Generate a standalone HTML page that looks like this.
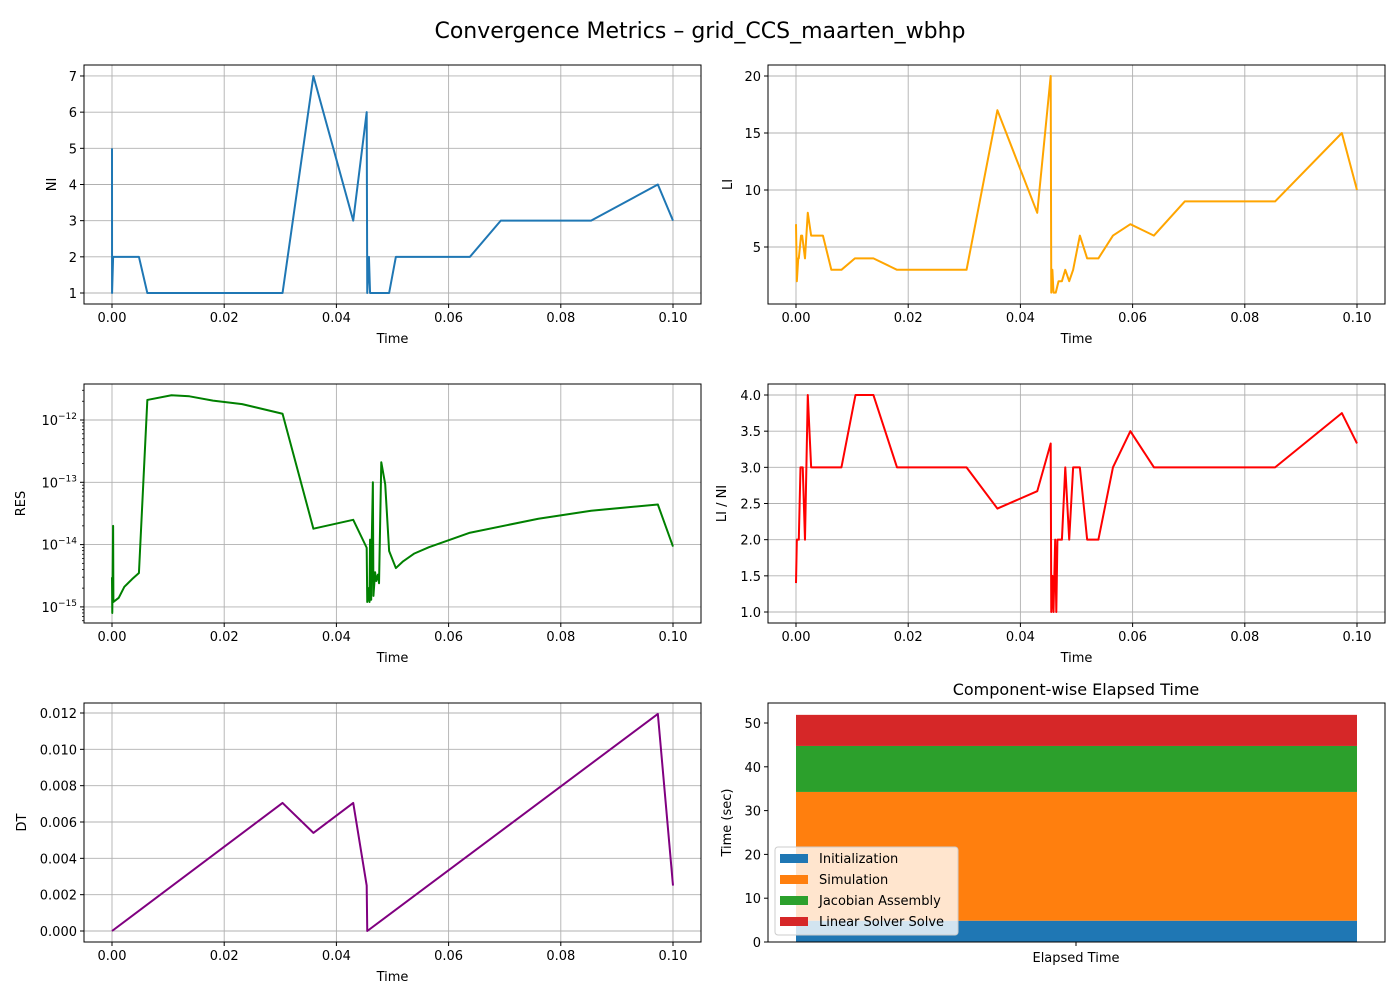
<!DOCTYPE html>
<html><head><meta charset="utf-8">
<style>
body{margin:0;background:#fff;}
svg{display:block;font-family:"DejaVu Sans","Liberation Sans",sans-serif;}
</style></head>
<body>
<svg id="fig" width="1400" height="1000" viewBox="0 0 1400 1000" xmlns="http://www.w3.org/2000/svg">
<rect x="0" y="0" width="1400" height="1000" fill="#fff"/>
<text x="700" y="38" font-size="22" text-anchor="middle">Convergence Metrics – grid_CCS_maarten_wbhp</text>
</svg>
<script>
// ---- data ----
const niT = [0,0.00001,0.0002,0.0048,0.0063,0.0304,0.0359,0.0430,0.0454,0.0455,0.0458,0.0460,0.0494,0.0506,0.0638,0.0693,0.0854,0.0973,0.1];
const niV = [5,1,2,2,1,1,7,3,6,1,2,1,1,2,2,3,3,4,3];
const liT = [0,0.00015,0.0004,0.0005,0.0009,0.0011,0.0016,0.0021,0.0027,0.0048,0.0063,0.0081,0.0105,0.0138,0.0180,0.0304,0.0359,0.0430,0.0454,0.0455,0.0457,0.0459,0.0463,0.0468,0.0474,0.0480,0.0487,0.0494,0.0506,0.0519,0.0539,0.0565,0.0596,0.0638,0.0693,0.0854,0.0973,0.1];
const liV = [7,2,4,4,6,6,4,8,6,6,3,3,4,4,3,3,17,8,20,1,3,1,1,2,2,3,2,3,6,4,4,6,7,6,9,9,15,10];
const lnT = [0,0.00015,0.0005,0.0008,0.0012,0.0016,0.0021,0.0027,0.0081,0.0106,0.0138,0.0180,0.0304,0.0359,0.0430,0.0454,0.0455,0.0457,0.0459,0.0462,0.0464,0.0466,0.0474,0.0480,0.0487,0.0494,0.0506,0.0519,0.0539,0.0565,0.0596,0.0638,0.0854,0.0973,0.1];
const lnV = [1.4,2,2,3,3,2,4,3,3,4,4,3,3,2.43,2.67,3.33,1,1.5,1,2,1,2,2,3,2,3,3,2,2,3,3.5,3,3,3.75,3.33];
const resT = [0,0.00005,0.0002,0.00025,0.0012,0.0022,0.0036,0.0048,0.0063,0.0106,0.0138,0.0180,0.0232,0.0304,0.0359,0.0430,0.0454,0.0455,0.0457,0.0459,0.0460,0.0462,0.0463,0.0465,0.0466,0.0469,0.0471,0.0474,0.0476,0.0480,0.0487,0.0494,0.0506,0.0519,0.0539,0.0565,0.0638,0.0760,0.0854,0.0973,0.1];
const resV = [3e-15,8e-16,2e-14,1.2e-15,1.4e-15,2.1e-15,2.8e-15,3.5e-15,2.1e-12,2.5e-12,2.4e-12,2.05e-12,1.8e-12,1.26e-12,1.8e-14,2.5e-14,8.9e-15,1.2e-15,2e-15,1.2e-15,1.2e-14,1.3e-15,1.1e-14,1e-13,1.5e-15,3.6e-15,2.6e-15,3.3e-15,2.4e-15,2.1e-13,9.3e-14,7.9e-15,4.2e-15,5.4e-15,7.2e-15,9.1e-15,1.55e-14,2.6e-14,3.5e-14,4.4e-14,9.3e-15];
const dtT = [0,0.0304,0.0359,0.0430,0.0454,0.0455,0.0973,0.1];
const dtV = [0,0.00705,0.0054,0.00705,0.0025,0,0.01195,0.0025];
const barCats = ["Initialization","Simulation","Jacobian Assembly","Linear Solver Solve"];
const barVals = [4.86,29.4,10.5,7.1];
const xTicks = [0,0.02,0.04,0.06,0.08,0.10];
const xTickLabels = ["0.00","0.02","0.04","0.06","0.08","0.10"];
const niTicks = [1,2,3,4,5,6,7];
const liTicks = [5,10,15,20];
const lnTicks = [1.0,1.5,2.0,2.5,3.0,3.5,4.0];
const resTicks = [-15,-14,-13,-12];
const dtTicks = [0,0.002,0.004,0.006,0.008,0.010,0.012];
const barTicks = [0,10,20,30,40,50];

// ---- helpers ----
const NS="http://www.w3.org/2000/svg";
const svg=document.getElementById('fig');
function mk(tag,attrs,parent){const e=document.createElementNS(NS,tag);for(const k in attrs)e.setAttribute(k,attrs[k]);(parent||svg).appendChild(e);return e;}
function txt(s,attrs,parent){const e=mk('text',attrs,parent);e.textContent=s;return e;}

function panel(name,x0,y0,w,h,xs,ys,yTicks,yLab,yLabel,yLabelX,xLabel){
  const g=mk('g',{});
  
  
  mk('rect',{x:x0,y:y0,width:w,height:h,fill:'#fff'},g);
  if(xs){
    xTicks.forEach((t,i)=>{const x=xs(t);
      const l=mk('line',{x1:x,x2:x,y1:y0,y2:y0+h,stroke:'#b0b0b0','stroke-width':0.9},g);
      
      mk('line',{x1:x,x2:x,y1:y0+h,y2:y0+h+4,stroke:'#000','stroke-width':1},g);
      const tl=txt(xTickLabels[i],{x:x,y:y0+h+18,'font-size':13,'text-anchor':'middle'},g);
      
    });
  }
  yTicks.forEach((v,i)=>{const y=ys(v);
    if(xs){const l=mk('line',{x1:x0,x2:x0+w,y1:y,y2:y,stroke:'#b0b0b0','stroke-width':0.9},g);
      }
    mk('line',{x1:x0-4,x2:x0,y1:y,y2:y,stroke:'#000','stroke-width':1},g);
    const tl=yLab(v,x0-7,y+5,g);
    
  });
  const yl=txt(yLabel,{x:yLabelX,y:y0+h/2,'font-size':13,'text-anchor':'middle',transform:`rotate(-90 ${yLabelX} ${y0+h/2})`},g);
  
  const xl=txt(xLabel,{x:x0+w/2,y:y0+h+39,'font-size':13,'text-anchor':'middle'},g);
  
  return g;
}
function frame(g,x0,y0,w,h){mk('rect',{x:x0,y:y0,width:w,height:h,fill:'none',stroke:'#000','stroke-width':1},g);}
function series(g,T,V,xs,ys,color,name){
  const d=T.map((t,i)=>(i?'L':'M')+xs(t).toFixed(2)+','+ys(V[i]).toFixed(2)).join(' ');
  const p=mk('path',{d:d,fill:'none',stroke:color,'stroke-width':2,'stroke-linejoin':'round'},g);
  
}
const plainLab=(fmt)=>(v,x,y,g)=>txt(fmt(v),{x:x,y:y,'font-size':13,'text-anchor':'end'},g);

const L={x:84,w:617}, R={x:768,w:617};
const rows=[{y:65,h:239},{y:384,h:239},{y:703,h:239}];
const xsL=t=>112+t*5610, xsR=t=>796+t*5610;

// NI
{const r=rows[0];const ys=v=>293-(v-1)*36.17;
 const g=panel('ni-panel',L.x,r.y,L.w,r.h,xsL,ys,niTicks,plainLab(v=>String(v)),'NI',56,'Time');
 series(g,niT,niV,xsL,ys,'#1f77b4','ni-line');frame(g,L.x,r.y,L.w,r.h);}
// LI
{const r=rows[0];const ys=v=>247-(v-5)*11.4;
 const g=panel('li-panel',R.x,r.y,R.w,r.h,xsR,ys,liTicks,plainLab(v=>String(v)),'LI',732,'Time');
 series(g,liT,liV,xsR,ys,'#ffa500','li-line');frame(g,R.x,r.y,R.w,r.h);}
// RES (log)
{const r=rows[1];const ys=v=>420-(Math.log10(v)+12)*62.3;const yl=e=>420-(e+12)*62.3;
 const lab=(e,x,y,g)=>{const t=txt('',{x:x,y:y,'font-size':13,'text-anchor':'end'},g);
   const a=document.createElementNS(NS,'tspan');a.textContent='10';t.appendChild(a);
   const b=document.createElementNS(NS,'tspan');b.setAttribute('font-size','9');b.setAttribute('dy','-6');b.textContent='−'+(-e);t.appendChild(b);return t;};
 const g=panel('res-panel',L.x,r.y,L.w,r.h,xsL,yl,resTicks,lab,'RES',25,'Time');
 for(let e=-16;e<=-12;e++)for(let k=2;k<10;k++){const y=yl(e+Math.log10(k));if(y>r.y&&y<r.y+r.h)mk('line',{x1:L.x-2,x2:L.x,y1:y,y2:y,stroke:'#000','stroke-width':0.8},g);}
 series(g,resT,resV,xsL,ys,'#008000','res-line');frame(g,L.x,r.y,L.w,r.h);}
// LI/NI
{const r=rows[1];const ys=v=>612-(v-1)*72.33;
 const g=panel('li-ni-panel',R.x,r.y,R.w,r.h,xsR,ys,lnTicks,plainLab(v=>v.toFixed(1)),'LI / NI',726,'Time');
 series(g,lnT,lnV,xsR,ys,'#ff0000','li-ni-line');frame(g,R.x,r.y,R.w,r.h);}
// DT
{const r=rows[2];const ys=v=>931-v*18166;
 const g=panel('dt-panel',L.x,r.y,L.w,r.h,xsL,ys,dtTicks,plainLab(v=>v.toFixed(3)),'DT',26,'Time');
 series(g,dtT,dtV,xsL,ys,'#800080','dt-line');frame(g,L.x,r.y,L.w,r.h);}
// Bar
{const r=rows[2];const ys=v=>942-v*4.38;
 const g=panel('elapsed-time-panel',R.x,r.y,R.w,r.h,null,ys,barTicks,plainLab(v=>String(v)),'Time (sec)',731,'');
 const colors=['#1f77b4','#ff7f0e','#2ca02c','#d62728'];
 let base=0;
 barVals.forEach((v,i)=>{const b=mk('rect',{x:796,width:561,y:ys(base+v),height:ys(base)-ys(base+v),fill:colors[i]},g);
   base+=v;});
 mk('line',{x1:1076,x2:1076,y1:942,y2:946,stroke:'#000'},g);
 const xt=txt('Elapsed Time',{x:1076,y:962,'font-size':13,'text-anchor':'middle'},g);
 
 const tt=txt('Component-wise Elapsed Time',{x:1076,y:695,'font-size':16,'text-anchor':'middle'},g);
 
 const lg=mk('g',{},g);
 
 mk('rect',{x:775,y:847,width:183,height:88,rx:3,fill:'#fff','fill-opacity':0.8,stroke:'#ccc'},lg);
 barCats.forEach((c,i)=>{const y=858+i*21;
   const e=mk('g',{},lg);
   
   mk('rect',{x:780,y:y-4,width:28,height:9,fill:colors[i]},e);
   txt(c,{x:819,y:y+5,'font-size':13},e);});
 frame(g,R.x,r.y,R.w,r.h);}
</script>
</body></html>
